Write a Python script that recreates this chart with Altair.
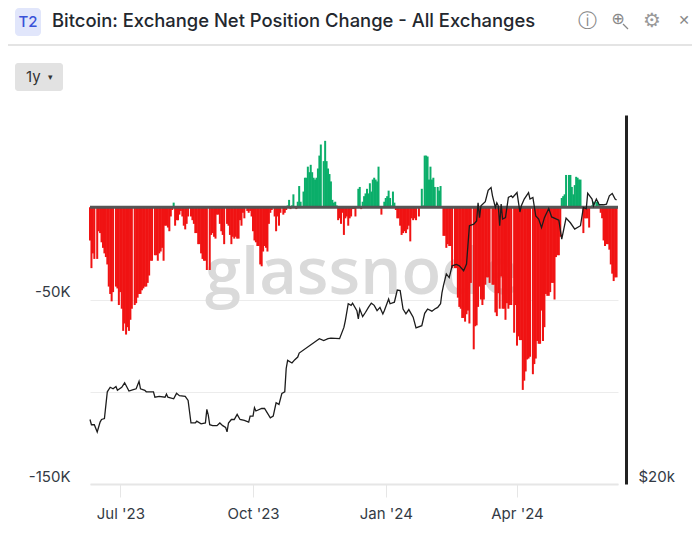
import altair as alt
import pandas as pd
from datetime import date, timedelta

START = date(2023, 6, 10)

net_a = [-18,-33,-25,-28,0,-28,-13,-14,-19,-22,-25,-27,-31,-43,-47,-51,-46,0,-43,-44,-53,-46,-55,-67,-63,-69,-65,-67,-61,-55,0,
 -53,-52,-49,-47,-47,-45,-44,-43,-43,-41,-37,-29,-29,0,-26,-26,-29,-25,-24,-22,-29,-10,-10,-11,-13,-5,-1.5,2.5,
 -10,-7,-7,-4,-2,-5,-10,-12,-9,-5,0,-5,-7,-9,-14,-14,-20,-20,-25,-28,-29,-29,-34,0,-34,-15,-14,-16,-17,-4,-4,-9,-13,-15,-20,0,
 -9,-10,-15,-20,-16,-17,-16,-17,-17,-7,-10,-3,-6,0,-2,-3,-2,-5,-13,-18,-19,-21,-21]
net_b = [-31,-32,-24,-21,-22,-24,-9,-3,-1.5,0,-5,-13,-5,-10,-3,0,-4,-3,-1.5,1,4,-1,1,7,0,-1,3,11.5,3,0,8.5,16,16,22,19,23,19,16,15,16,21,28,34,0,25,36,25,21,18,14,4,2.5,3,1,
 -7,-6,-9,-3,-15,-6,-5,-10,-6,-5,-1,-1,-5,0,10,11,-1,3,6,7.5,10,7.5,13,8.5,15,16,15,14,22,0,-4,0,3,5,6,9,5,1,8.5,2.5,
 -1.5,-6,-6,-10,-15,-14,-13,-14,-12,-10,-18.5,-6,-7,-6,-7,0,-5,0,10,1,28,28,27.5,15,22,15,16,11,0,11,9,11.5,0]
net_c = [-15.5,-15.5,-22,-20,-21,-21,-33,0,-33,-33,-49,-54,-55,-60,-60,-62,-58,-56,-63,-41,0,-77,-64.5,-64,-54,-43,-50,-53,-50,-42,-38,-38,-41,0,-42,-42,
 -57,-59,-46.5,-55,-37.5,-55,-55,-61,-52,-55,-53,-53,0,-68,-53,-75,-70,-72,-72,-99,-94,-89,-82.5,-82,-81,0,-90.5,-85,-82,-72.5,-74,-74,-56,-72.5,-65,-47,-48,-48,-46,-41,-41,-50,-27,-26,-26,-16,
 5,6,7,17.5,0,17.5,17.5,11,7,12,16.5,16,15,15,0,-14,-6,-6,-6,-11,0,1,3,0,3,3,1,-3,-6,-18,-21,-20,-20,-23,-31,-36,-40,-38,-38]
net_k = net_a + net_b + net_c

price_days = [0,1,3,5,7,8,10,12,14,16,18,19,22,24,27,30,32,34,35,38,39,44,45,48,52,53,54,58,60,62,66,68,70,73,74,77,80,81,82,83,85,88,90,92,94,95,96,98,100,102,104,107,110,111,113,114,115,119,121,125,127,129,131,133,135,136,137,140,142,144,145,
 159,162,165,167,173,176,177,179,181,182,185,186,187,189,191,193,195,197,199,201,203,204,207,208,211,213,215,217,219,221,224,226,230,232,234,237,239,241,
 243,244,245,247,249,251,254,256,259,261,263,266,268,269,270,271,274,276,278,279,281,282,283,284,285,286,288,290,292,293,296,298,299,301,304,305,307,309,311,313,315,318,320,325,327,330,333,336,340,342,344,345,348,349,351,353,356,358,360,362,364,365]
price_k = [26.5,25.9,25.9,25.1,26.2,26.5,26.6,29.9,30.5,30.3,30.6,30.1,30.5,31.1,30.0,30.2,30.3,31.3,30.3,30.1,29.9,29.9,29.2,29.3,29.2,29.6,29.2,29.0,29.7,29.4,29.3,28.8,26.1,26.1,26.3,26.0,26.1,27.7,27.0,25.9,25.8,25.8,26.1,25.8,25.6,25.1,26.1,26.5,26.5,27.1,26.5,26.4,26.2,26.9,26.9,27.9,27.5,27.8,27.8,26.7,26.9,28.5,28.3,29.7,29.9,33.1,34.3,33.9,34.4,34.8,35.4,
 37.7,37.4,37.7,37.8,37.7,39.6,40.8,43.9,43.6,44.0,42.6,41.1,42.9,41.5,42.3,43.2,44.0,43.6,42.6,43.2,42.0,42.6,44.8,43.9,44.2,46.6,46.5,42.9,42.0,42.8,41.4,39.5,39.9,42.1,42.9,42.5,42.9,43.2,
 43.9,46.1,47.5,50.0,49.2,51.8,52.1,51.8,50.7,52.2,61.7,62.1,63.0,68.2,63.9,67.3,68.5,72.0,72.9,70.3,66.8,68.2,67.3,61.7,67.8,63.5,63.9,69.8,70.3,69.8,71.3,65.5,67.3,69.3,71.3,69.3,69.8,64.4,63.5,61.2,63.9,66.5,64.1,63.2,58.2,63.8,62.5,60.8,61.7,66.8,66.4,71.1,69.3,67.3,69.3,67.6,67.6,67.8,70.3,71.0,69.3,69.0]

TITLE = "Bitcoin: Exchange Net Position Change - All Exchanges"

n = min(len(price_days), len(price_k))
bars = pd.DataFrame({
    "date": [(START + timedelta(days=i)).isoformat() for i in range(len(net_k))],
    "net": [v * 1000 for v in net_k],
    "side": ["up" if v > 0 else "down" for v in net_k],
})
line = pd.DataFrame({
    "date": [(START + timedelta(days=d)).isoformat() for d in price_days[:n]],
    "price": [p * 1000 for p in price_k[:n]],
})

FONT = "Inter"
one = alt.Data(values=[{"a": 1}])

def dt(y, m, d):
    return alt.DateTime(year=y, month=m, date=d, utc=True)

x_scale = alt.Scale(type="utc", domain=[dt(2023, 6, 10), dt(2024, 6, 10)], padding=0)
y_domain = [-150000, 50000]

def label(text, x, y, size, color, font=FONT, weight=400, align="left"):
    return alt.Chart(one).mark_text(text=text, font=font, fontSize=size, color=color,
                                    fontWeight=weight, align=align, baseline="middle").encode(
        x=alt.value(x - 90), y=alt.value(y - 115))

def box(x0, x1, y0, y1, fill, r):
    return alt.Chart(one).mark_rect(color=fill, cornerRadius=r).encode(
        x=alt.value(x0 - 90), x2=alt.value(x1 - 90), y=alt.value(y0 - 115), y2=alt.value(y1 - 115))

watermark = label("glassnode", 205, 274, 65, "#dadada", font="Open Sans", weight=600)

bar_layer = alt.Chart(bars).mark_bar(size=2).encode(
    x=alt.X("date:T", scale=x_scale, title=None, axis=alt.Axis(
        values=[dt(2023, 7, 1), dt(2023, 10, 1), dt(2024, 1, 1), dt(2024, 4, 1)],
        format="%b '%y", grid=False, domainColor="#e6e6e6", domainWidth=2,
        tickColor="#e6e6e6", tickSize=13, labelColor="#333a44", labelFontSize=15,
        labelFont=FONT, labelPadding=9, labelFlush=False)),
    y=alt.Y("net:Q", scale=alt.Scale(domain=y_domain, nice=False), title=None, axis=alt.Axis(
        values=[-150000, -100000, -50000],
        labelExpr="datum.value == -50000 ? '-50K' : datum.value == -150000 ? '-150K' : ''",
        grid=True, gridColor="#ececec", gridWidth=1, domain=False, ticks=False,
        labelColor="#333a44", labelFontSize=15, labelFont=FONT, labelPadding=20, labelBaseline="bottom")),
    color=alt.Color("side:N", legend=None, scale=alt.Scale(domain=["up", "down"], range=["#0bae6a", "#f01313"])),
)

zero = alt.Chart(one).mark_rule(color="#555555", strokeWidth=3).encode(
    x=alt.value(0), x2=alt.value(528),
    y=alt.Y(datum=0, scale=alt.Scale(domain=y_domain, nice=False), axis=None))

price = alt.Chart(line).mark_line(color="#1c1c1c", strokeWidth=1.3).encode(
    x=alt.X("date:T", scale=x_scale),
    y=alt.Y("price:Q", scale=alt.Scale(type="log", domain=[20000, 100000], nice=False), title=None,
            axis=alt.Axis(orient="right", offset=8, values=[20000], labelExpr="'$20k'", grid=False,
                          ticks=False, domainColor="#222222", domainWidth=3, labelColor="#333a44",
                          labelFontSize=15, labelFont=FONT, labelPadding=12, labelBaseline="bottom")),
)

chart = alt.layer(
    watermark, bar_layer, zero, price,
    box(15, 41, 8, 36, "#e1e6fb", 4),
    label("T2", 28, 22, 15, "#3a52d8", weight=500, align="center"),
    label(TITLE, 52, 21, 18.4, "#23272e", weight=500),
    label("ⓘ", 587, 21, 19, "#888888", font="DejaVu Sans", align="center"),
    label("⊕", 618, 19, 16, "#888888", font="DejaVu Sans", align="center"),
    alt.Chart(one).mark_rule(color="#888888", strokeWidth=1.3).encode(
        x=alt.value(623 - 90), x2=alt.value(628 - 90), y=alt.value(24 - 115), y2=alt.value(29 - 115)),
    label("⚙", 652, 21, 20, "#999999", font="DejaVu Sans", align="center"),
    label("✕", 684, 21, 14, "#888888", font="DejaVu Sans", align="center"),
    alt.Chart(one).mark_rule(color="#e4e4e4", strokeWidth=2).encode(
        x=alt.value(-90), x2=alt.value(610), y=alt.value(45 - 115)),
    box(15, 63, 63, 91, "#e2e2e2", 3),
    label("1y", 26, 77, 15, "#333333"),
    label("▾", 48, 77, 9, "#333333"),
).resolve_scale(y="independent").properties(
    width=528, height=369,
    autosize=alt.AutoSizeParams(type="none"),
    padding={"left": 82, "top": 107, "right": 74, "bottom": 43},
).configure_view(stroke=None)

chart.save("out.html", embed_options={"renderer": "svg", "actions": False})
